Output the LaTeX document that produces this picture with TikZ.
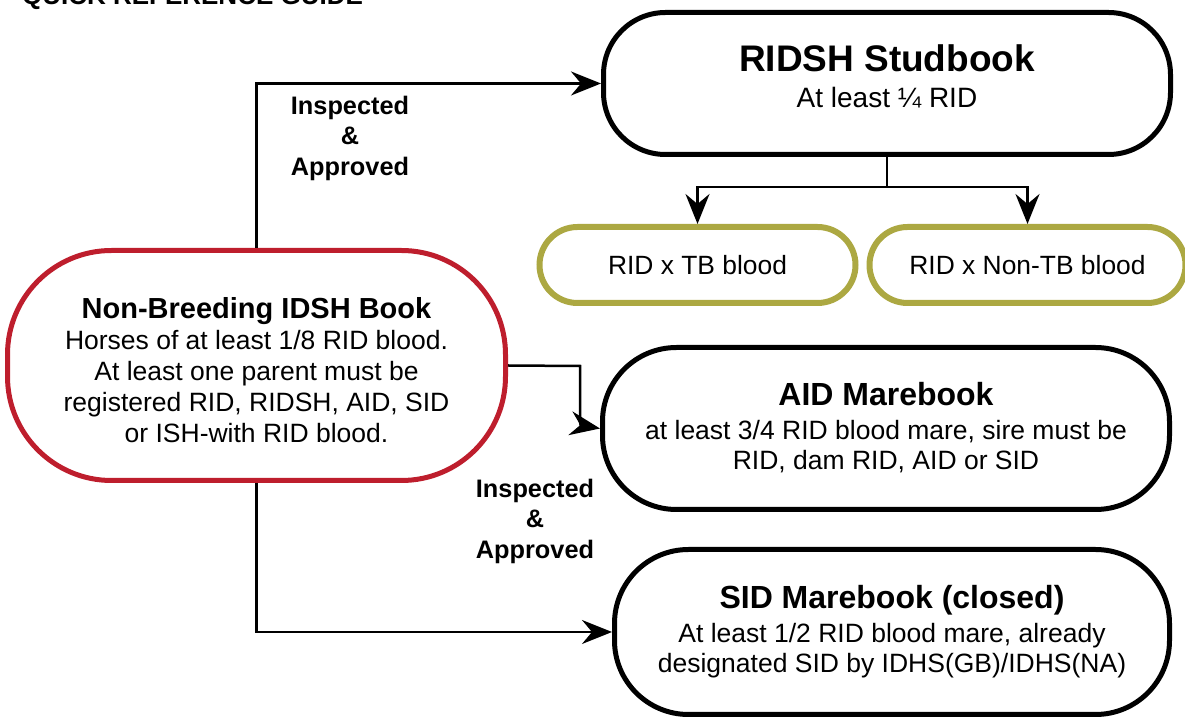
\documentclass[tikz,border=0pt]{standalone}
\usepackage{fontspec}
\setmainfont{Liberation Sans}
\usetikzlibrary{arrows.meta}

\definecolor{bookred}{RGB}{190,30,45}
\definecolor{bookolive}{RGB}{172,168,66}

\tikzset{
  book/.style={draw=black, line width=2.5pt, inner sep=0pt, align=center,
    font=\fontsize{13.25}{15}\selectfont},
  subbook/.style={draw=bookolive, line width=3pt, inner sep=0pt, align=center,
    rounded corners=19pt, minimum width=158pt, minimum height=38pt,
    font=\fontsize{13.2}{15}\selectfont},
  conn/.style={line width=1.25pt, -{Stealth[length=15pt,width=12pt,inset=5pt]}},
  approval/.style={align=center, font=\bfseries\fontsize{12.65}{15.25}\selectfont}
}
\newcommand{\booktitle}[2]{{\bfseries\fontsize{#1}{#1}\selectfont #2}}

\begin{document}
\begin{tikzpicture}[x=0.5pt,y=0.5pt]
\useasboundingbox (0,0) rectangle (1185,-721);
\node[anchor=base west, font=\bfseries\fontsize{13}{13}\selectfont] (guide) at (15,-4.5) {QUICK REFERENCE GUIDE};
% books
\node[book, rounded corners=31pt, minimum width=283.5pt, minimum height=71pt] (ridsh) at (887,-83.5)
  {\booktitle{18.5}{RIDSH Studbook}\\[3pt]\fontsize{14}{15}\selectfont At least ¼ RID\rule[-7pt]{0pt}{7pt}};
\node[subbook] (tb) at (697.5,-265) {RID x TB blood};
\node[subbook] (ntb) at (1027.5,-265) {RID x Non-TB blood};
\node[book, draw=bookred, rounded corners=52pt, minimum width=249pt, minimum height=115pt] (nb) at (256.5,-365.5)
  {\booktitle{14.5}{\rule{0pt}{15pt}Non-Breeding IDSH Book}\\[0.5pt]
   Horses of at least 1/8 RID blood.\\[0.5pt]
   At least one parent must be\\[0.5pt]
   registered RID, RIDSH, AID, SID\\[0.5pt]
   or ISH-with RID blood.};
\node[book, rounded corners=37pt, minimum width=283.5pt, minimum height=81pt] (aid) at (886,-428.5)
  {\booktitle{16}{AID Marebook}\\[2pt]
   at least 3/4 RID blood mare, sire must be\\
   RID, dam RID, AID or SID\rule[-3pt]{0pt}{3pt}};
\node[book, rounded corners=37pt, minimum width=277.5pt, minimum height=82.5pt] (sid) at (892,-632)
  {\booktitle{16}{SID Marebook (closed)}\\[2pt]
   At least 1/2 RID blood mare, already\\
   designated SID by IDHS(GB)/IDHS(NA)\rule[-3pt]{0pt}{3pt}};
% labels
\node[approval] (insp1) at (350,-138) {Inspected\\\&\\Approved};
\node[approval] (insp2) at (535,-521) {Inspected\\\&\\Approved};
% connectors
\coordinate (split) at ([yshift=-15pt]ridsh.south);
\draw[conn] (nb.north) |- (ridsh.west);
\draw[line width=1.25pt] (ridsh.south) -- (split);
\draw[conn] (split) -| (tb.north);
\draw[conn] (split) -| (ntb.north);
\draw[conn] (nb.east) -- (580,-366) -- (580,-405) .. controls (580,-425) .. (aid.west);
\draw[conn] (nb.south) |- (sid.west);
\end{tikzpicture}
\end{document}
